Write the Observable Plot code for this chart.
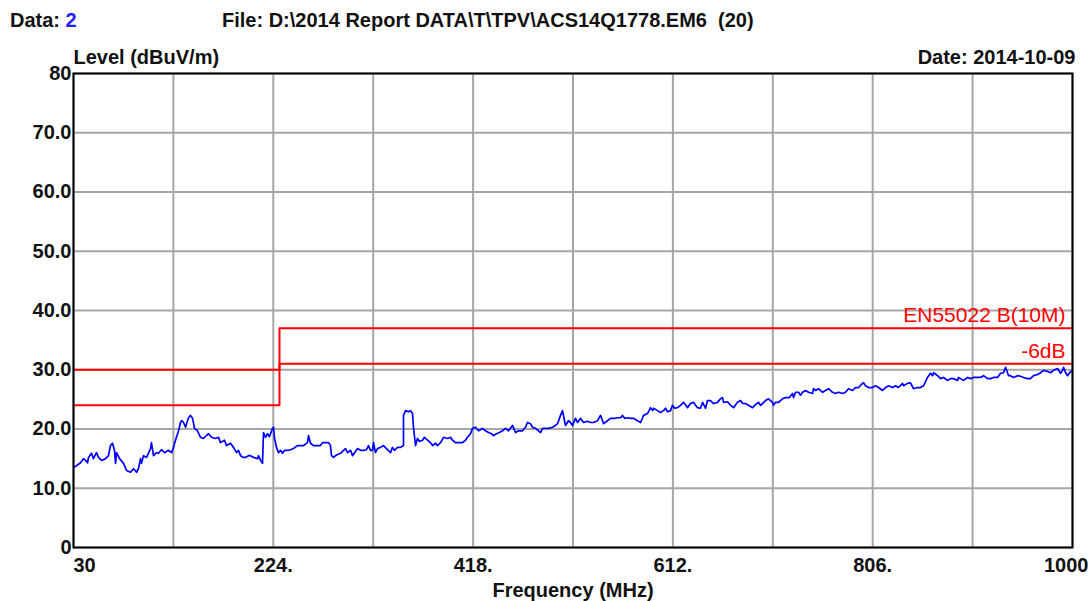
<!DOCTYPE html>
<html><head><meta charset="utf-8">
<script src="https://cdn.jsdelivr.net/npm/d3@7"></script>
<script src="https://cdn.jsdelivr.net/npm/@observablehq/plot@0.6"></script>
<style>
body{margin:0;background:#fff;font-family:"Liberation Sans",Arial,sans-serif;}
#wrap{position:relative;width:1091px;height:601px;overflow:hidden;}
#hdr{position:relative;height:40px;font-weight:bold;font-size:20px;color:#111;}
#hdr .t{position:absolute;top:8px;line-height:24px;white-space:pre;}
#chart svg{overflow:visible;display:block;}
</style></head><body>
<div id="wrap">
<div id="hdr"><span class="t" style="left:10px">Data: <span style="color:#1f1fff">2</span></span><span class="t" style="left:222px">File: D:\2014 Report DATA\T\TPV\ACS14Q1778.EM6  (20)</span></div>
<div id="chart"></div>
</div>
<script>
// ---- data ----
const freqMHz = [30,32.9,36.8,39.7,41.7,43.6,44.6,47.5,49.4,52.3,54.3,57.2,61.1,64.0,65.9,67.9,69.8,70.8,71.8,74.7,78.6,81.5,85.3,88.3,91.2,93.1,95.1,96.0,98.0,100.9,104.8,105.7,107.7,110.6,112.5,115.4,118.4,122.2,125.2,127.1,129.0,132.0,133.9,134.9,136.8,138.8,140.7,141.7,143.6,145.6,147.5,150.4,153.3,156.2,159.1,161.1,164.0,167.9,170.8,172.7,176.6,178.6,182.4,185.4,188.3,190.2,192.2,195.1,
197.0,199.9,201.9,204.8,208.7,209.6,211.6,213.5,214.5,216.4,218.4,220.3,223.2,224.2,225.2,227.1,229.1,231.0,232.9,234.9,237.8,240.7,243.6,247.5,250.4,253.3,257.2,258.2,260.1,263.0,266.9,269.8,271.8,274.7,277.6,279.5,280.5,282.5,284.4,286.3,289.3,292.2,294.1,296.1,299.0,300.9,302.9,305.8,308.7,311.6,314.5,316.4,318.4,320.3,321.3,323.2,325.2,328.1,331.0,333.9,337.8,339.7,341.7,344.6,347.5,350.4,350.4,352.4,355.3,
357.2,359.2,360.1,362.1,364.0,366.0,368.9,370.8,373.8,376.6,378.6,381.5,383.4,386.4,389.3,393.1,396.1,398.0,400.9,403.8,407.7,410.6,412.6,415.5,417.4,420.3,423.3,427.1,430.1,433.0,435.9,437.8,440.7,443.6,446.6,449.5,452.4,456.3,459.2,462.1,466.0,468.9,470.8,473.7,475.7,478.6,481.5,483.5,485.4,488.3,491.2,495.1,498.0,500.0,502.9,504.8,506.8,507.7,510.6,512.6,514.5,
517.4,519.4,522.3,525.2,529.1,532.0,534.9,538.8,541.7,543.7,544.6,548.5,551.4,555.3,558.2,561.2,563.1,565.1,568.0,570.9,573.8,577.7,580.6,582.6,583.5,587.4,590.3,592.3,593.2,597.1,600.0,602.9,604.9,606.8,609.7,611.6,613.6,616.5,619.4,622.3,624.3,626.2,629.1,632.0,634.0,635.9,638.8,640.8,643.7,645.6,648.5,651.5,655.3,658.2,660.2,661.2,665.0,668.0,670.9,674.7,677.7,
679.6,682.5,685.4,689.3,692.2,695.1,697.1,699.0,701.9,704.8,708.7,709.7,711.6,714.6,718.4,721.3,725.2,728.1,729.1,731.1,734.0,735.9,737.9,740.8,743.7,747.6,748.5,750.5,753.4,757.3,760.2,763.1,767.0,769.9,772.8,776.7,779.6,782.5,786.4,789.3,792.2,796.1,797.1,799.0,801.9,805.8,808.7,811.7,815.5,818.5,821.4,825.3,828.2,831.1,835.0,
835.9,839.8,842.7,845.6,849.5,852.4,855.4,859.2,862.1,864.1,865.1,869.0,871.9,874.8,878.7,881.6,884.5,888.4,889.3,891.3,894.2,898.1,901.0,903.9,907.8,910.7,913.6,917.5,920.4,923.3,927.2,930.1,933.0,935.0,936.9,937.9,939.8,942.7,946.6,949.5,952.5,956.3,959.2,962.2,966.0,969.0,971.9,975.8,978.7,981.6,985.5,988.4,990.4,991.3,993.3,995.2,997.1,1000];

const levelDb = [13.5,13.8,14.3,15.0,14.7,14.3,15.2,15.9,15.0,16.0,15.2,14.7,15.0,15.5,17.2,17.6,16.4,14.2,16.0,15.0,14.2,13.0,12.7,13.3,12.7,13.3,15.0,14.2,15.5,15.2,16.7,17.7,15.5,16.0,15.9,16.5,16.0,16.4,16.0,16.9,18.1,19.7,21.1,21.4,21.1,20.3,21.4,21.9,22.3,21.8,20.1,19.7,18.6,18.4,18.9,19.2,18.6,18.4,18.6,17.7,18.1,17.2,17.6,16.9,16.0,16.4,15.5,15.2,
15.2,15.5,15.5,15.2,15.0,15.5,14.7,14.2,19.4,18.6,19.2,18.7,20.1,20.3,18.4,16.9,16.0,16.4,15.9,16.4,16.4,16.5,16.7,17.2,17.2,17.2,17.7,18.9,17.6,17.2,17.2,17.2,17.7,17.7,17.7,17.2,15.5,15.2,15.5,15.7,15.9,16.4,16.7,16.0,16.4,15.5,16.0,16.7,16.4,16.4,16.5,17.2,16.4,16.4,17.7,16.0,16.7,16.9,17.2,16.7,16.0,16.9,16.4,16.9,16.9,17.2,22.3,23.1,22.9,
23.1,22.6,20.3,17.2,18.4,17.9,18.1,18.6,18.1,17.7,17.2,17.6,17.2,17.7,18.6,18.4,18.6,18.1,17.7,17.7,17.7,18.1,18.6,19.2,20.1,20.3,19.7,20.1,19.7,19.4,19.2,18.9,19.2,19.4,19.7,20.1,19.7,20.6,19.4,19.7,19.7,20.3,21.1,20.9,20.3,20.1,19.7,19.4,20.1,20.1,20.1,20.3,20.6,20.9,22.3,23.1,21.4,20.6,21.4,21.1,20.6,
21.8,21.1,21.8,21.1,21.3,21.1,21.1,21.4,22.3,21.4,20.9,21.4,21.8,21.8,21.9,21.9,22.3,21.8,21.9,21.8,21.8,21.4,21.1,21.9,22.3,22.6,23.6,23.1,23.5,23.1,22.8,23.1,23.5,22.9,23.1,24.0,23.5,23.6,24.0,24.5,24.1,23.6,24.3,24.5,24.0,23.6,23.5,24.5,23.5,24.8,24.8,24.3,24.5,25.1,25.3,24.5,24.6,24.0,23.6,24.5,24.8,
24.3,24.3,24.0,23.6,24.1,24.5,24.0,24.3,24.8,25.1,24.5,24.0,24.5,24.5,25.1,25.3,25.3,26.0,25.3,26.2,26.2,25.7,26.2,26.5,26.2,26.0,26.8,26.5,26.8,26.2,26.5,26.8,26.2,26.0,26.2,26.0,26.2,26.8,26.5,27.0,27.0,27.7,27.8,27.3,27.0,27.0,27.3,27.0,26.5,27.0,27.3,27.0,27.3,27.0,27.7,
27.3,27.7,27.8,26.8,27.0,27.0,27.3,28.7,29.4,29.0,29.5,29.0,28.5,28.7,28.2,28.5,28.5,28.2,28.7,28.5,28.2,28.7,28.5,28.7,28.7,28.7,29.0,28.5,28.5,28.7,28.7,29.4,29.5,30.4,29.5,29.0,29.0,28.7,29.0,28.9,28.7,28.5,28.5,29.0,29.2,29.5,29.9,29.7,29.5,29.9,30.2,29.4,29.9,30.4,29.5,29.0,29.5,29.9];

const limitFreq = [30, 230, 230, 1000];
const limitEN55022B = [30, 30, 37, 37];
const limitMinus6 = [24, 24, 31, 31];
const limitNames = ["EN55022 B(10M)", "-6dB"];

const xGridValues = [30, 127, 224, 321, 418, 515, 612, 709, 806, 903, 1000];
const xTickValues = [30, 224, 418, 612, 806, 1000];
const xTickLabels = ["30", "224.", "418.", "612.", "806.", "1000"];
const yTickValues = [0, 10, 20, 30, 40, 50, 60, 70, 80];
const yTickLabels = ["0", "10.0", "20.0", "30.0", "40.0", "50.0", "60.0", "70.0", "80"];

// ---- chart ----
const trace = freqMHz.map((f, i) => ({f, v: levelDb[i]}));
const lim1 = limitFreq.map((f, i) => ({f, v: limitEN55022B[i]}));
const lim2 = limitFreq.map((f, i) => ({f, v: limitMinus6[i]}));
const FONT = "'Liberation Sans', Arial, sans-serif";
const xFmt = d => xTickLabels[xTickValues.indexOf(d)];
const yFmt = d => yTickLabels[yTickValues.indexOf(d)];
const axisCommon = {tickSize: 0, label: null, fontSize: 20, fontWeight: "bold", fill: "#111"};
const txt = {fontSize: 20, fontWeight: "bold", fill: "#111", lineAnchor: "middle"};

const chart = Plot.plot({
  width: 1091, height: 561,
  marginTop: 33, marginBottom: 54, marginLeft: 73, marginRight: 19,
  style: {fontFamily: FONT, fontSize: "20px", fontWeight: "bold", color: "#111", background: "#fff", overflow: "visible"},
  x: {domain: [30, 1000]},
  y: {domain: [0, 80]},
  marks: [
    Plot.gridX(xGridValues, {stroke: "#a6a6a6", strokeOpacity: 1, strokeWidth: 2}),
    Plot.gridY(yTickValues, {stroke: "#a6a6a6", strokeOpacity: 1, strokeWidth: 2}),
    Plot.line(lim1, {x: "f", y: "v", stroke: "#ff0000", strokeWidth: 2}),
    Plot.line(lim2, {x: "f", y: "v", stroke: "#ff0000", strokeWidth: 2}),
    Plot.line(trace, {x: "f", y: "v", stroke: "#0000ff", strokeWidth: 1.7}),
    Plot.frame({stroke: "#000", strokeWidth: 2}),
    Plot.axisY(yTickValues, {...axisCommon, anchor: "left", tickPadding: 2, tickFormat: yFmt}),
    Plot.axisX([xTickValues[0]], {...axisCommon, anchor: "bottom", tickPadding: 18, lineAnchor: "middle", textAnchor: "start", tickFormat: xFmt}),
    Plot.axisX(xTickValues.slice(1, -1), {...axisCommon, anchor: "bottom", tickPadding: 18, lineAnchor: "middle", tickFormat: xFmt}),
    Plot.axisX([xTickValues[xTickValues.length - 1]], {...axisCommon, anchor: "bottom", tickPadding: 18, lineAnchor: "middle", textAnchor: "end", dx: 16, tickFormat: xFmt}),
    Plot.text(["Frequency (MHz)"], {...txt, frameAnchor: "bottom", dy: 43}),
    Plot.text(["Level (dBuV/m)"], {...txt, frameAnchor: "top-left", textAnchor: "start", dy: -16}),
    Plot.text(["Date: 2014-10-09"], {...txt, frameAnchor: "top-right", textAnchor: "end", dx: 3, dy: -16}),
    Plot.text([{f: 1000, v: limitEN55022B[3], t: limitNames[0]}], {x: "f", y: "v", text: "t", textAnchor: "end", lineAnchor: "middle", dx: -7, dy: -13, fontSize: 21, fontWeight: "normal", fill: "#ff0000"}),
    Plot.text([{f: 1000, v: limitMinus6[3], t: limitNames[1]}], {x: "f", y: "v", text: "t", textAnchor: "end", lineAnchor: "middle", dx: -7, dy: -13, fontSize: 21, fontWeight: "normal", fill: "#ff0000"})
  ]
});
document.getElementById("chart").appendChild(chart);
</script>
</body></html>
